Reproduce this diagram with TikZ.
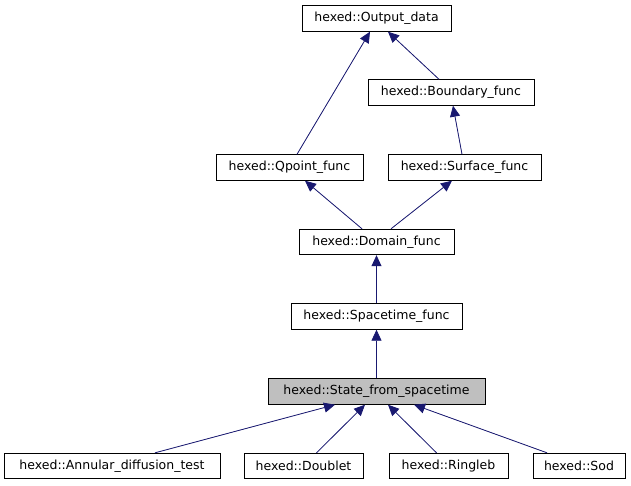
\documentclass[tikz,border=0pt]{standalone}
\usepackage{fontspec}
\setmainfont{DejaVu Sans}
\usepackage{tikz}
\usetikzlibrary{arrows.meta}
\definecolor{edgec}{RGB}{25,25,112}
\definecolor{curc}{RGB}{191,191,191}
\definecolor{inkc}{RGB}{0,0,0}

\begin{document}
\begin{tikzpicture}[x=1pt, y=-1pt, font=\fontsize{12.5}{14}\selectfont,
    cls/.style={draw=inkc, line width=0.9pt, fill=white, inner sep=0pt,
      minimum height=25.5pt, anchor=center},
    inh/.style={{Triangle[length=11pt, width=10pt]}-, draw=edgec, fill=edgec,
      line width=0.8pt}]
  \useasboundingbox (0,0) rectangle (631,485);

  % class boxes, one row per inheritance level
  \node[cls, minimum width=149pt] (out) at (376.5,18.5) {hexed::Output\_data};
  \node[cls, minimum width=166pt] (bnd) at (451,92.5) {hexed::Boundary\_func};
  \node[cls, minimum width=147pt] (qpt) at (289.5,167.5) {hexed::Qpoint\_func};
  \node[cls, minimum width=153pt] (srf) at (464.5,167.5) {hexed::Surface\_func};
  \node[cls, minimum width=155pt] (dom) at (376.5,242) {hexed::Domain\_func};
  \node[cls, minimum width=171pt] (spt) at (376.5,316.5) {hexed::Spacetime\_func};
  \node[cls, fill=curc, minimum width=217pt] (sfs) at (376.5,391.5)
    {hexed::State\_from\_spacetime};

  % derived classes
  \node[cls, minimum width=216pt] (adt) at (112,466) {hexed::Annular\_diffusion\_test};
  \node[cls, minimum width=119pt] (dbl) at (303.5,466) {hexed::Doublet};
  \node[cls, minimum width=119pt] (rgl) at (448.5,466) {hexed::Ringleb};
  \node[cls, minimum width=92pt]  (sod) at (579,466) {hexed::Sod};

  % inheritance arrows: parent/offset -- child/offset
  \foreach \p/\ps/\c/\cs in {out/-6.5/qpt/7.5, out/11.5/bnd/-12, bnd/2/srf/-2.5,
      qpt/15.5/dom/-14.5, srf/-12.5/dom/14.5, dom/0/spt/0, spt/0/sfs/0,
      sfs/-41.5/adt/43, sfs/-11.5/dbl/13, sfs/11.5/rgl/-12, sfs/37.5/sod/-32}{
    \draw[inh] ([xshift=\ps pt]\p.south) -- ([xshift=\cs pt]\c.north);
  }
\end{tikzpicture}
\end{document}
